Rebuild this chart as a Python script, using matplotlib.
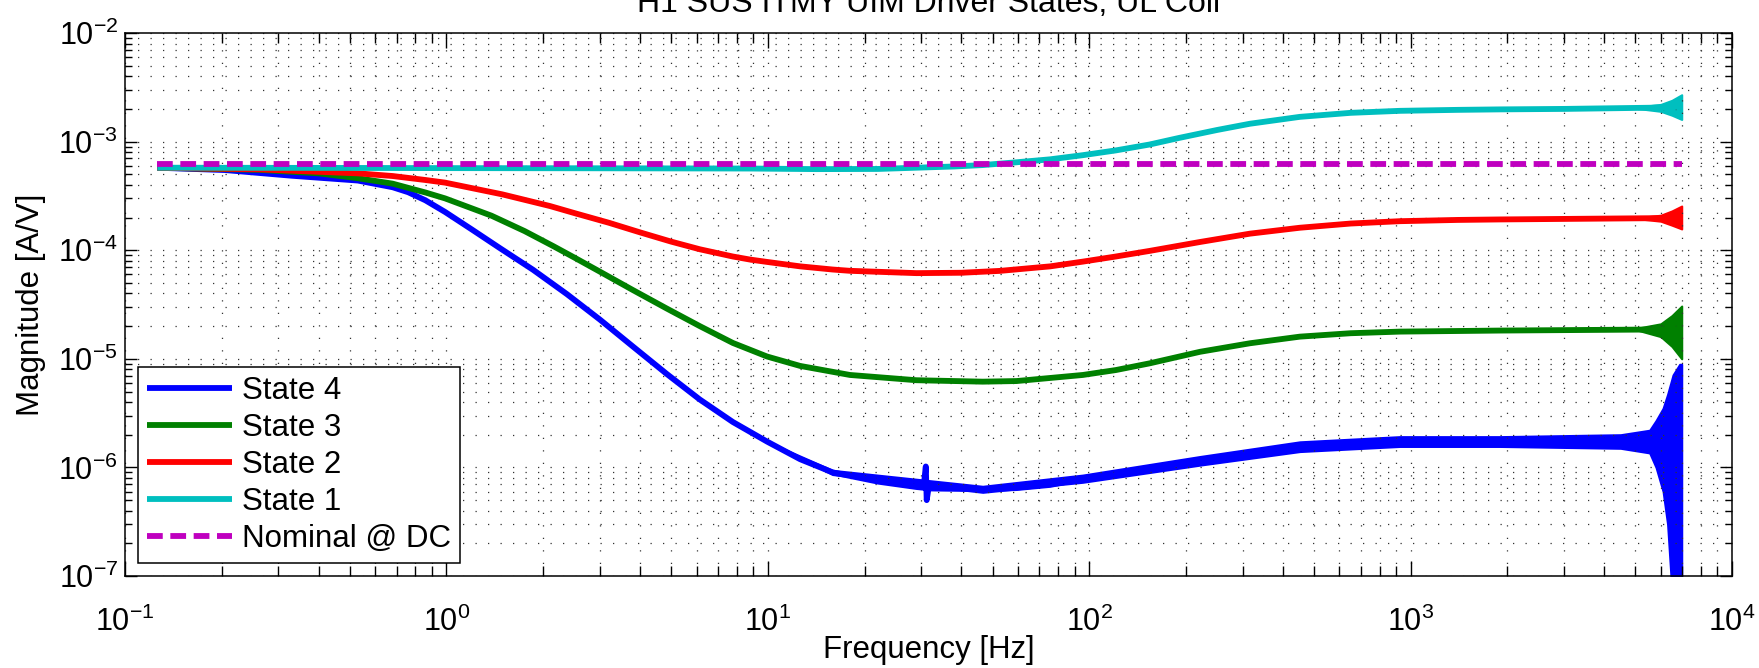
import numpy as np
import matplotlib
matplotlib.use("Agg")
import matplotlib.pyplot as plt
from matplotlib.ticker import LogLocator, NullFormatter

plt.rcParams["font.family"] = ["Liberation Sans", "DejaVu Sans"]
plt.rcParams["mathtext.fontset"] = "custom"
plt.rcParams["mathtext.rm"] = "Liberation Sans"
plt.rcParams["mathtext.it"] = "Liberation Sans"
plt.rcParams["mathtext.default"] = "regular"

# ---------------- data ----------------
title = "H1 SUS ITMY UIM Driver States, UL Coil"

# State 1 (cyan)
f1 = [0.126, 0.5, 1, 3, 8.8, 14.2, 22, 29, 38, 46.6, 59.4, 75.6, 95.5, 121, 154, 190, 250,
      316, 452, 650, 925, 1400, 1893, 3000, 5540, 6970]
m1 = [5.75e-4, 5.72e-4, 5.7e-4, 5.68e-4, 5.65e-4, 5.58e-4, 5.6e-4, 5.75e-4, 5.9e-4, 6.08e-4,
      6.45e-4, 6.87e-4, 7.5e-4, 8.3e-4, 9.4e-4, 1.08e-3, 1.28e-3, 1.46e-3, 1.69e-3, 1.84e-3,
      1.92e-3, 1.96e-3, 1.98e-3, 2.0e-3, 2.05e-3, 2.1e-3]

# State 2 (red)
f2 = [0.126, 0.26, 0.53, 0.68, 0.86, 0.99, 1.49, 2.1, 2.51, 3.2, 4.0, 5.0, 6.14, 7.78, 8.8,
      9.94, 12.6, 15.9, 18, 29, 40, 52.7, 75.6, 95.5, 121, 154, 221, 316, 452, 650, 925,
      1400, 1893, 5540, 6970]
m2 = [5.75e-4, 5.55e-4, 5.1e-4, 4.82e-4, 4.43e-4, 4.19e-4, 3.27e-4, 2.55e-4, 2.19e-4, 1.79e-4,
      1.46e-4, 1.2e-4, 1.02e-4, 8.75e-5, 8.2e-5, 7.8e-5, 7.1e-5, 6.64e-5, 6.46e-5, 6.15e-5,
      6.2e-5, 6.45e-5, 7.1e-5, 7.85e-5, 8.75e-5, 9.85e-5, 1.19e-4, 1.42e-4, 1.61e-4, 1.76e-4,
      1.85e-4, 1.9e-4, 1.92e-4, 1.97e-4, 1.98e-4]

# State 3 (green)
f3 = [0.126, 0.26, 0.4, 0.53, 0.68, 0.86, 0.99, 1.38, 1.75, 2.15, 2.51, 3.0, 3.8, 4.85, 6.14,
      7.78, 9.94, 12.6, 18, 29, 46.6, 59.4, 95.5, 121, 154, 221, 316, 452, 650, 925, 1893,
      5540, 6970]
m3 = [5.75e-4, 5.5e-4, 5.1e-4, 4.6e-4, 4.1e-4, 3.4e-4, 3.0e-4, 2.08e-4, 1.5e-4, 1.09e-4,
      8.5e-5, 6.35e-5, 4.3e-5, 2.9e-5, 2.0e-5, 1.4e-5, 1.05e-5, 8.6e-6, 7.1e-6, 6.35e-6,
      6.16e-6, 6.24e-6, 7.1e-6, 7.88e-6, 9.08e-6, 1.16e-5, 1.39e-5, 1.6e-5, 1.72e-5, 1.78e-5,
      1.82e-5, 1.86e-5, 1.88e-5]

# State 4 (blue)
f4 = [0.126, 0.205, 0.33, 0.53, 0.68, 0.76, 0.86, 0.99, 1.2, 1.47, 1.86, 2.37, 3.0, 3.8, 4.85,
      6.14, 7.78, 9.94, 12.6, 15.9, 22, 29, 30.5, 31.0, 31.2, 31.6, 46.6, 59.4, 75.6, 95.5,
      121, 154, 221, 316, 452, 925, 1893, 5540]
m4 = [5.75e-4, 5.47e-4, 4.85e-4, 4.38e-4, 3.8e-4, 3.42e-4, 2.88e-4, 2.25e-4, 1.55e-4, 1.04e-4,
      6.6e-5, 3.94e-5, 2.3e-5, 1.3e-5, 7.24e-6, 4.22e-6, 2.62e-6, 1.73e-6, 1.19e-6, 9.0e-7,
      7.4e-7, 6.6e-7, 6.5e-7, 1.02e-6, 5.0e-7, 6.4e-7, 6.3e-7, 6.45e-7, 6.9e-7, 7.9e-7, 8.5e-7,
      9.9e-7, 1.15e-6, 1.3e-6, 1.55e-6, 1.73e-6, 1.73e-6, 1.76e-6]

# noise envelopes (upper / lower edge of the fuzzy trace)
f1_env = [5000, 6000, 6500, 6970]
m1_hi = [2.07e-3, 2.2e-3, 2.4e-3, 2.7e-3]
m1_lo = [2.03e-3, 1.9e-3, 1.75e-3, 1.6e-3]
f2_env = [5000, 6000, 6500, 6970]
m2_hi = [1.98e-4, 2.1e-4, 2.3e-4, 2.55e-4]
m2_lo = [1.96e-4, 1.85e-4, 1.7e-4, 1.57e-4]
f3_env = [5000, 6000, 6500, 6970]
m3_hi = [1.9e-5, 2.1e-5, 2.5e-5, 3.06e-5]
m3_lo = [1.86e-5, 1.6e-5, 1.3e-5, 1.0e-5]
f4_env = [9.94, 15.9, 46.6, 95.5, 221, 452, 925, 1893, 4500, 5540, 5800, 6100, 6300, 6550,
          6870, 6970]
m4_hi = [1.73e-6, 9.4e-7, 6.7e-7, 8.5e-7, 1.26e-6, 1.72e-6, 1.92e-6, 1.92e-6, 2.0e-6, 2.2e-6,
         2.7e-6, 3.5e-6, 4.7e-6, 7.1e-6, 8.9e-6, 8.9e-6]
m4_lo = [1.73e-6, 8.6e-7, 5.9e-7, 7.3e-7, 1.05e-6, 1.4e-6, 1.56e-6, 1.56e-6, 1.5e-6, 1.36e-6,
         1.0e-6, 6.0e-7, 3.0e-7, 5e-8, 5e-8, 5e-8]

f_nom = [0.126, 6970]
m_nom = [6.2e-4, 6.2e-4]

labels = ["State 4", "State 3", "State 2", "State 1", "Nominal @ DC"]
colors = ["#0000ff", "#008000", "#ff0000", "#00bfbf", "#bf00bf"]

# ---------------- plot ----------------
fig = plt.figure(figsize=(17.59, 6.68), dpi=100)
ax = fig.add_axes([0.0711, 0.1377, 0.9136, 0.8129])

lw = 4.2
series = [(f4, m4, f4_env, m4_lo, m4_hi), (f3, m3, f3_env, m3_lo, m3_hi),
          (f2, m2, f2_env, m2_lo, m2_hi), (f1, m1, f1_env, m1_lo, m1_hi)]
handles = []
for (f, m, fe, lo, hi), c, lab in zip(series, colors, labels):
    ax.fill_between(fe, lo, hi, color=c, lw=1.5, edgecolor=c)
    h, = ax.plot(f, m, color=c, lw=lw, label=lab, solid_capstyle="butt",
                 solid_joinstyle="round")
    handles.append(h)
h, = ax.plot(f_nom, m_nom, color=colors[4], lw=lw, ls=(0, (2.7, 1.3)), label=labels[4])
handles.append(h)

ax.set_xscale("log")
ax.set_yscale("log")
ax.set_xlim(1e-1, 1e4)
ax.set_ylim(1e-7, 1e-2)
ax.xaxis.set_major_locator(LogLocator(base=10, numticks=10))
ax.xaxis.set_minor_locator(LogLocator(base=10, subs=np.arange(2, 10), numticks=10))
ax.yaxis.set_major_locator(LogLocator(base=10, numticks=10))
ax.yaxis.set_minor_locator(LogLocator(base=10, subs=np.arange(2, 10), numticks=10))
ax.xaxis.set_minor_formatter(NullFormatter())
ax.yaxis.set_minor_formatter(NullFormatter())

ax.grid(True, which="both", color="#333333", lw=0.9, ls=(0, (1, 9)))
ax.tick_params(which="both", direction="in", top=True, right=True, width=1.0, labelsize=22)
ax.tick_params(axis="x", which="major", length=11, pad=22)
ax.tick_params(axis="x", which="minor", length=7.5)
ax.tick_params(axis="y", which="major", length=8.5, pad=5)
ax.tick_params(axis="y", which="minor", length=5)
for s in ax.spines.values():
    s.set_linewidth(1.1)

ax.set_xlabel("Frequency [Hz]", fontsize=22.5, labelpad=-2)
ax.set_ylabel("Magnitude [A/V]", fontsize=22.5, labelpad=9)
ax.set_title(title, fontsize=23, pad=15)

leg = ax.legend(handles=handles, loc="lower left", bbox_to_anchor=(0.0081, 0.024),
                borderaxespad=0, fontsize=22.5, handlelength=2.7, handletextpad=0.32,
                labelspacing=0.22, borderpad=0.3, fancybox=False, framealpha=1)
leg.get_frame().set_edgecolor("black")
leg.get_frame().set_linewidth(1.1)

fig.savefig("out.png", dpi=100)
